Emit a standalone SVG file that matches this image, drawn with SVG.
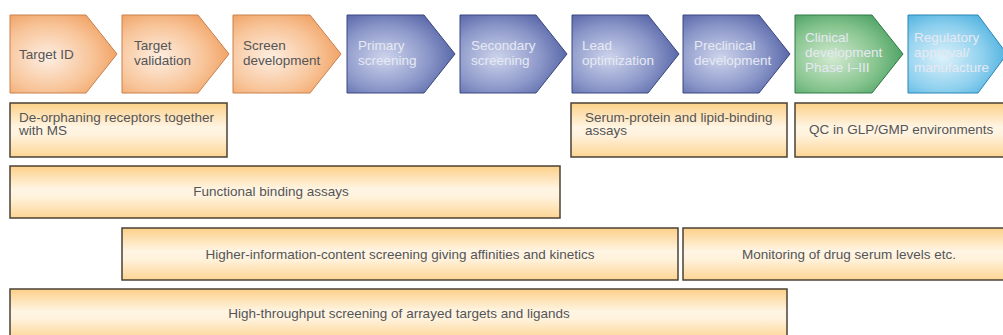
<svg xmlns="http://www.w3.org/2000/svg" width="1003" height="335" viewBox="0 0 1003 335">
<defs>
<radialGradient id="gOr" cx="0.35" cy="0.55" r="0.75">
<stop offset="0" stop-color="#fdeee2"/><stop offset="0.55" stop-color="#f8c59a"/><stop offset="1" stop-color="#ee9652"/>
</radialGradient>
<radialGradient id="gBl" cx="0.35" cy="0.55" r="0.75">
<stop offset="0" stop-color="#cdd4ec"/><stop offset="0.55" stop-color="#8a96c8"/><stop offset="1" stop-color="#45559c"/>
</radialGradient>
<radialGradient id="gGr" cx="0.35" cy="0.55" r="0.75">
<stop offset="0" stop-color="#d2ead0"/><stop offset="0.55" stop-color="#86c48e"/><stop offset="1" stop-color="#3a9656"/>
</radialGradient>
<radialGradient id="gLb" cx="0.35" cy="0.55" r="0.75">
<stop offset="0" stop-color="#dcf1fa"/><stop offset="0.55" stop-color="#8ed0ee"/><stop offset="1" stop-color="#3aa6da"/>
</radialGradient>
<linearGradient id="gBox" x1="0" y1="0" x2="0" y2="1">
<stop offset="0" stop-color="#fcd088"/><stop offset="0.45" stop-color="#fff5e4"/><stop offset="0.6" stop-color="#fff2dc"/><stop offset="1" stop-color="#fdd594"/>
</linearGradient>
</defs>
<style>
.or{fill:url(#gOr);stroke:#c9804c;stroke-width:1}
.bl{fill:url(#gBl);stroke:#3a4680;stroke-width:1}
.gr{fill:url(#gGr);stroke:#2e7a44;stroke-width:1}
.lb{fill:url(#gLb);stroke:#2a86b4;stroke-width:1}
.box{fill:url(#gBox);stroke:#4a4234;stroke-width:1.5}
text{font-family:"Liberation Sans",Arial,sans-serif;font-size:13.5px}
.dk{fill:#555}
.lt{fill:#e6e9f3}
.bt{fill:#555}
</style>
<rect width="1003" height="335" fill="#ffffff"/>
<g id="connectors"></g>
<g id="stage1"><polygon class="or" points="10,15 86,15 117,54 86,93 10,93"/><text class="dk" x="19" y="59">Target ID</text></g>
<g id="stage2"><polygon class="or" points="122,15 198,15 229,54 198,93 122,93"/><text class="dk" x="134" y="50">Target</text><text class="dk" x="134" y="65">validation</text></g>
<g id="stage3"><polygon class="or" points="233,15 310,15 341,54 310,93 233,93"/><text class="dk" x="243" y="50">Screen</text><text class="dk" x="243" y="65">development</text></g>
<g id="stage4"><polygon class="bl" points="347,15 424,15 455,54 424,93 347,93"/><text class="lt" x="358" y="50">Primary</text><text class="lt" x="358" y="65">screening</text></g>
<g id="stage5"><polygon class="bl" points="460,15 536,15 567,54 536,93 460,93"/><text class="lt" x="471" y="50">Secondary</text><text class="lt" x="471" y="65">screening</text></g>
<g id="stage6"><polygon class="bl" points="572,15 648,15 679,54 648,93 572,93"/><text class="lt" x="582" y="50">Lead</text><text class="lt" x="582" y="65">optimization</text></g>
<g id="stage7"><polygon class="bl" points="683,15 759,15 790,54 759,93 683,93"/><text class="lt" x="694" y="50">Preclinical</text><text class="lt" x="694" y="65">development</text></g>
<g id="stage8"><polygon class="gr" points="795,15 872,15 903,54 872,93 795,93"/><text class="lt" x="805" y="42">Clinical</text><text class="lt" x="805" y="57">development</text><text class="lt" x="805" y="72">Phase I–III</text></g>
<g id="stage9"><polygon class="lb" points="908,15 978,15 1007,54 978,93 908,93"/><text class="lt" x="914" y="42">Regulatory</text><text class="lt" x="914" y="57">approval/</text><text class="lt" x="914" y="72">manufacture</text></g>
<g id="box1"><rect class="box" x="10" y="103" width="217" height="54"/><text class="bt" x="19" y="122">De-orphaning receptors together</text><text class="bt" x="19" y="135">with MS</text></g>
<g id="box2"><rect class="box" x="571" y="103" width="216" height="54"/><text class="bt" x="585" y="122">Serum-protein and lipid-binding</text><text class="bt" x="585" y="135">assays</text></g>
<g id="box3"><rect class="box" x="795" y="103" width="212" height="54"/><text class="bt" x="809" y="134">QC in GLP/GMP environments</text></g>
<g id="box4"><rect class="box" x="10" y="166" width="550" height="52"/><text class="bt" x="271" y="196" text-anchor="middle">Functional binding assays</text></g>
<g id="box5"><rect class="box" x="122" y="228" width="556" height="52"/><text class="bt" x="400" y="259" text-anchor="middle">Higher-information-content screening giving affinities and kinetics</text></g>
<g id="box6"><rect class="box" x="683" y="228" width="324" height="52"/><text class="bt" x="849" y="259" text-anchor="middle">Monitoring of drug serum levels etc.</text></g>
<g id="box7"><rect class="box" x="10" y="289" width="777" height="50"/><text class="bt" x="399" y="318" text-anchor="middle">High-throughput screening of arrayed targets and ligands</text></g>
</svg>
